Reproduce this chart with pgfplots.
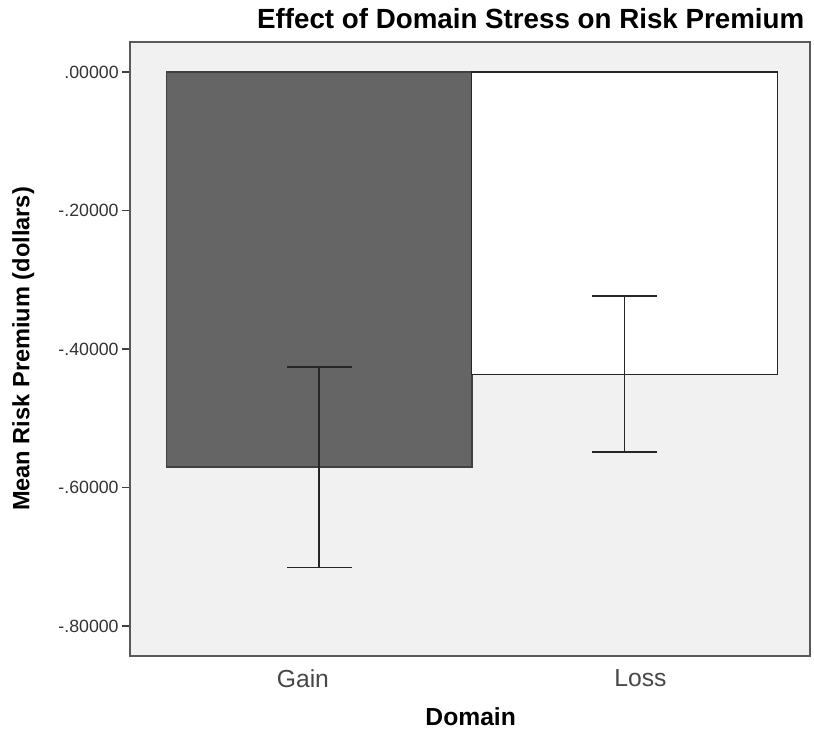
\documentclass[border=0pt]{standalone}
\usepackage{fontspec}
\setmainfont{Liberation Sans}
\usepackage{pgfplots}
\pgfplotsset{compat=1.18}
\definecolor{plotbg}{HTML}{F0F1F0}
\definecolor{gainfill}{HTML}{656565}
\begin{document}
\begin{tikzpicture}
\begin{axis}[
  at={(0pt,0pt)}, anchor=south west,
  scale only axis,
  width=510pt, height=460.5pt,
  xmin=-0.619, xmax=1.607,
  ymin=-0.8433, ymax=0.0433,
  axis background/.style={fill=plotbg},
  axis line style={draw=black!65, line width=1.8pt},
  xtick={-0.053,1.052}, xticklabels={Gain,Loss},
  x tick style={draw=none},
  ytick={-0.8,-0.6,-0.4,-0.2,0},
  yticklabels={-.80000,-.60000,-.40000,-.20000,.00000},
  y tick style={draw=black!75, line width=1.2pt},
  tick align=outside,
  major tick length=6pt,
  ytick pos=left,
  xtick pos=bottom,
  yticklabel style={font=\fontsize{13.3}{15}\selectfont, text=black!80, xshift=1pt},
  xticklabel style={font=\fontsize{18.5}{20}\selectfont, text=black!72, yshift=-0.8pt},
  ylabel={\bfseries Mean Risk Premium (dollars)},
  ylabel style={font=\fontsize{17.7}{20}\selectfont, at={(axis description cs:-0.157,0.5)}, anchor=center},
  xlabel={\bfseries Domain},
  xlabel style={font=\fontsize{18.5}{20}\selectfont, at={(axis description cs:0.501,-0.0993)}, anchor=center},
  title={\bfseries Effect of Domain Stress on Risk Premium},
  title style={font=\fontsize{20.8}{22}\selectfont, at={(axis description cs:0.9985,1.0367)}, anchor=east, yshift=-5pt},
  ybar, bar width=1, bar shift=0pt,
  clip=false,
]
\addplot[fill=gainfill, draw=black!75, line width=1.2pt,
  error bars/.cd, y dir=both, y explicit,
  error bar style={black!85, line width=1.3pt},
  error mark options={rotate=90, black!85, line width=1.3pt, mark size=24.4pt}]
  coordinates {(0,-0.5705) +- (0,0.1450)};
\addplot[fill=white, draw=black!85, line width=0.8pt,
  error bars/.cd, y dir=both, y explicit,
  error bar style={black!85, line width=1.3pt},
  error mark options={rotate=90, black!85, line width=1.3pt, mark size=24.4pt}]
  coordinates {(1,-0.4362) +- (0,0.1128)};
\end{axis}
\pgfresetboundingbox
\path[use as bounding box] (-97.5pt,-57pt) rectangle (513pt,492pt);
\end{tikzpicture}
\end{document}
